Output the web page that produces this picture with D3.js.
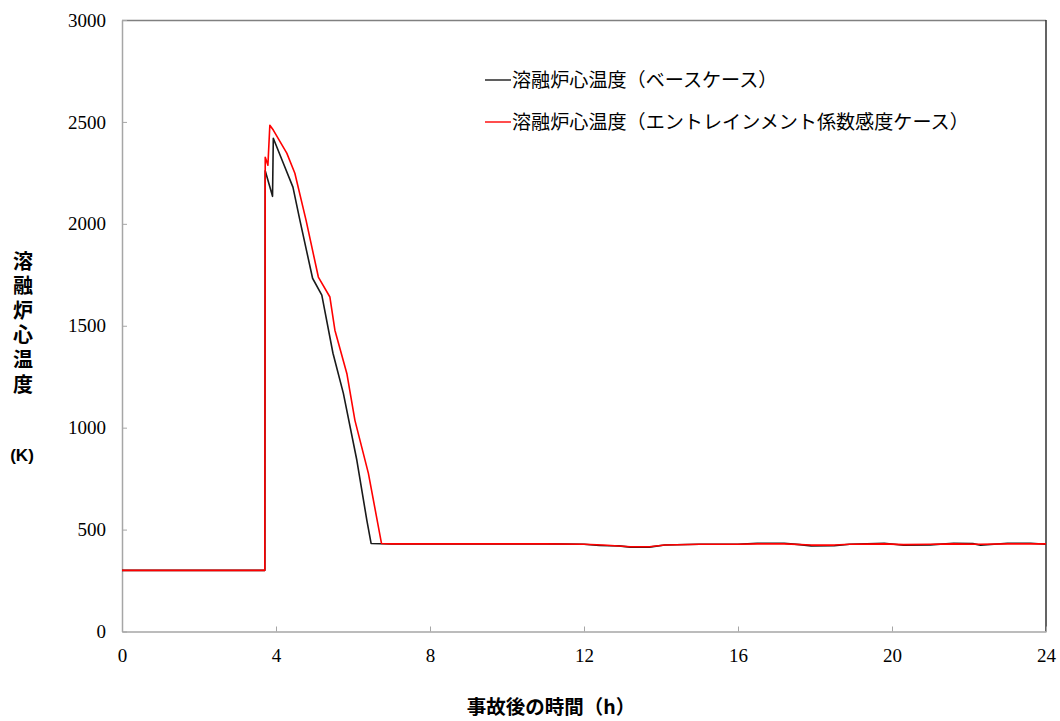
<!DOCTYPE html>
<html>
<head>
<meta charset="utf-8">
<script src="https://cdn.jsdelivr.net/npm/d3@7"></script>
<style>
  html, body { margin: 0; padding: 0; background: #fff; }
  svg { display: block; }
</style>
</head>
<body>
<svg id="chart" width="1060" height="721"></svg>
<script>
// ---- data ----
const baseTime = [0, 3.71, 3.72, 3.91, 3.93, 4.18, 4.44, 4.62, 4.95, 5.19, 5.48, 5.75, 6.10, 6.36, 6.47,
  7, 8, 9, 10, 11, 12, 12.4, 12.9, 13.2, 13.7, 14.1, 15, 16, 16.5, 17.2, 17.6, 17.9, 18.5, 18.9,
  19.8, 20.3, 21, 21.6, 22.1, 22.3, 23, 23.6, 24];
const baseTemp = [300, 300, 2260, 2135, 2420, 2302, 2180, 2018, 1733, 1650, 1365, 1168, 840, 545, 432,
  430, 430, 430, 430, 430, 428, 422, 420, 414, 414, 424, 428, 428, 433, 433, 426, 420, 421, 428,
  433, 423, 425, 433, 431, 423, 433, 433, 428];

const entrTime = [0, 3.71, 3.72, 3.79, 3.84, 3.93, 4.28, 4.49, 4.78, 5.10, 5.40, 5.53, 5.84, 6.05, 6.40, 6.74,
  7, 8, 9, 10, 11, 12, 12.5, 13.2, 13.7, 14.1, 15, 16, 16.5, 17.2, 17.9, 18.5, 18.9,
  19.8, 20.3, 21, 21.6, 22.3, 23, 24];
const entrTemp = [300, 300, 2327, 2288, 2484, 2460, 2347, 2248, 2018, 1739, 1641, 1478, 1266, 1036, 776, 432,
  430, 430, 430, 430, 430, 428, 424, 416, 416, 424, 428, 428, 430, 430, 424, 424, 428,
  430, 426, 428, 430, 428, 430, 430];

const xTicks = [0, 4, 8, 12, 16, 20, 24];
const yTicks = [0, 500, 1000, 1500, 2000, 2500, 3000];

const legendLabels = ["溶融炉心温度（ベースケース）", "溶融炉心温度（エントレインメント係数感度ケース）"];
const seriesColors = ["#1a1a1a", "#ff0000"];
const yTitle = "溶融炉心温度";
const yUnit = "(K)";
const xTitle = "事故後の時間（h）";

// ---- chart ----
const svg = d3.select("#chart");
const mLeft = 122, mRight = 1046, mTop = 20, mBottom = 631.5;
const x = d3.scaleLinear().domain([0, 24]).range([mLeft, mRight]);
const y = d3.scaleLinear().domain([0, 3000]).range([mBottom, mTop]);

// frame: top and right
svg.append("line").attr("x1", mLeft).attr("x2", mRight).attr("y1", mTop + 0.5).attr("y2", mTop + 0.5)
  .attr("stroke", "#808080").attr("stroke-width", 1.5);
svg.append("line").attr("x1", mRight).attr("x2", mRight).attr("y1", mTop).attr("y2", mBottom)
  .attr("stroke", "#303030").attr("stroke-width", 1.5);

const tickFont = "'Liberation Serif', 'DejaVu Serif', serif";

// x axis
const gx = svg.append("g").attr("transform", `translate(0,${mBottom})`)
  .call(d3.axisBottom(x).tickValues(xTicks).tickSizeInner(-5).tickSizeOuter(0).tickPadding(16).tickFormat(d3.format("d")));
gx.select(".domain").attr("stroke", "#a6a6a6").attr("stroke-width", 1.5);
gx.selectAll(".tick line").attr("stroke", "#a6a6a6");
gx.selectAll(".tick text").attr("font-family", tickFont).attr("font-size", 19).attr("fill", "#000").attr("dy", "0.78em");

// y axis
const gy = svg.append("g").attr("transform", `translate(${mLeft},0)`)
  .call(d3.axisLeft(y).tickValues(yTicks).tickSizeInner(-5).tickSizeOuter(0).tickPadding(16).tickFormat(d3.format("d")));
gy.select(".domain").attr("stroke", "#a6a6a6").attr("stroke-width", 1.5);
gy.selectAll(".tick line").attr("stroke", "#a6a6a6");
gy.selectAll(".tick text").attr("font-family", tickFont).attr("font-size", 19).attr("fill", "#000");

// lines
const line = d3.line().x(d => x(d[0])).y(d => y(d[1]));
const series = [
  d3.zip(baseTime, baseTemp),
  d3.zip(entrTime, entrTemp)
];
series.forEach((s, i) => {
  svg.append("path").datum(s).attr("d", line)
    .attr("fill", "none").attr("stroke", seriesColors[i]).attr("stroke-width", 1.6)
    .attr("stroke-linejoin", "round");
});

// legend
const cjk = "'Noto Sans CJK JP', sans-serif";
legendLabels.forEach((lab, i) => {
  const ly = 80 + i * 42;
  svg.append("line").attr("x1", 485).attr("x2", 511).attr("y1", ly).attr("y2", ly)
    .attr("stroke", seriesColors[i]).attr("stroke-width", 1.4);
  svg.append("text").attr("x", 512).attr("y", ly).attr("dy", "0.36em")
    .attr("font-family", cjk).attr("font-size", 19.1).attr("fill", "#000").text(lab);
});

// y title (vertical writing, single text element)
svg.append("text").attr("x", 23).attr("y", 251)
  .style("writing-mode", "vertical-rl").style("text-orientation", "upright")
  .attr("letter-spacing", 4.6)
  .attr("font-family", cjk).attr("font-weight", "bold").attr("font-size", 20).attr("fill", "#000")
  .text(yTitle);
svg.append("text").attr("x", 22).attr("y", 455).attr("dy", "0.36em")
  .attr("text-anchor", "middle").attr("font-family", "'Liberation Sans', Arial, sans-serif").attr("font-weight", "bold")
  .attr("font-size", 17).attr("fill", "#000").text(yUnit);

// x title
svg.append("text").attr("x", 551).attr("y", 707).attr("dy", "0.36em")
  .attr("text-anchor", "middle").attr("font-family", cjk).attr("font-weight", "bold")
  .attr("font-size", 19.5).attr("fill", "#000").text(xTitle);
</script>
</body>
</html>
